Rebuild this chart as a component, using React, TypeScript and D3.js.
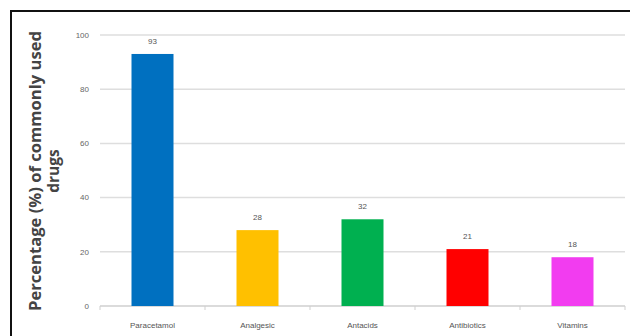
import React from "react";
import * as d3 from "d3";

const categories = ["Paracetamol", "Analgesic", "Antacids", "Antibiotics", "Vitamins"];
const values = [93, 28, 32, 21, 18];
const colors = ["#0070C0", "#FFC000", "#00B050", "#FF0000", "#F23CF0"];
const yTicks = [0, 20, 40, 60, 80, 100];
const yTitleLines = ["Percentage (%) of commonly used", "drugs"];

export default function App() {
  const W = 630, H = 336;
  const x = d3.scaleBand<string>().domain(categories).range([100, 625]).paddingInner(0.6).paddingOuter(0.3);
  const y = d3.scaleLinear().domain([0, 100]).range([306, 35]);
  const boundaries = d3.range(categories.length + 1).map((i) => 100 + i * 105);
  const font = "Liberation Sans, Arial, sans-serif";
  return (
    <svg width={W} height={H} style={{ position: "absolute", left: 0, top: 0, background: "#fff" }}>
      <rect x={0} y={0} width={W} height={H} fill="#fff" />
      <rect x={11} y={11} width={W} height={H} fill="none" stroke="#111" strokeWidth={2} />
      {yTicks.map((t) => (
        <g key={t}>
          <line x1={100} x2={625} y1={y(t)} y2={y(t)} stroke={t === 0 ? "#cfcfcf" : "#dedede"} strokeWidth={1.5} />
          <text x={89} y={y(t)} dy="0.35em" textAnchor="end" fontSize={8} fill="#666" fontFamily={font}>{t}</text>
        </g>
      ))}
      {boundaries.map((b, i) => (
        <line key={i} x1={b} x2={b} y1={y(0)} y2={y(0) + 4} stroke="#cfcfcf" />
      ))}
      {categories.map((c, i) => (
        <g key={c}>
          <rect x={x(c)} y={y(values[i])} width={x.bandwidth()} height={y(0) - y(values[i])} fill={colors[i]} />
          <text x={(x(c) as number) + x.bandwidth() / 2} y={y(values[i]) - 10} textAnchor="middle" fontSize={8} fill="#555" fontFamily={font}>{values[i]}</text>
          <text x={(x(c) as number) + x.bandwidth() / 2} y={328} textAnchor="middle" fontSize={8} fill="#555" fontFamily={font}>{c}</text>
        </g>
      ))}
      <g transform="translate(36,171) rotate(-90)">
        <text x={0} y={0} dy="0.35em" textAnchor="middle" fontSize={15.5} fontWeight="bold" fill="#444" fontFamily="Open Sans, Liberation Sans, sans-serif" textLength={280} lengthAdjust="spacingAndGlyphs">{yTitleLines[0]}</text>
        <text x={0} y={18} dy="0.35em" textAnchor="middle" fontSize={15.5} fontWeight="bold" fill="#444" fontFamily="Open Sans, Liberation Sans, sans-serif">{yTitleLines[1]}</text>
      </g>
    </svg>
  );
}
